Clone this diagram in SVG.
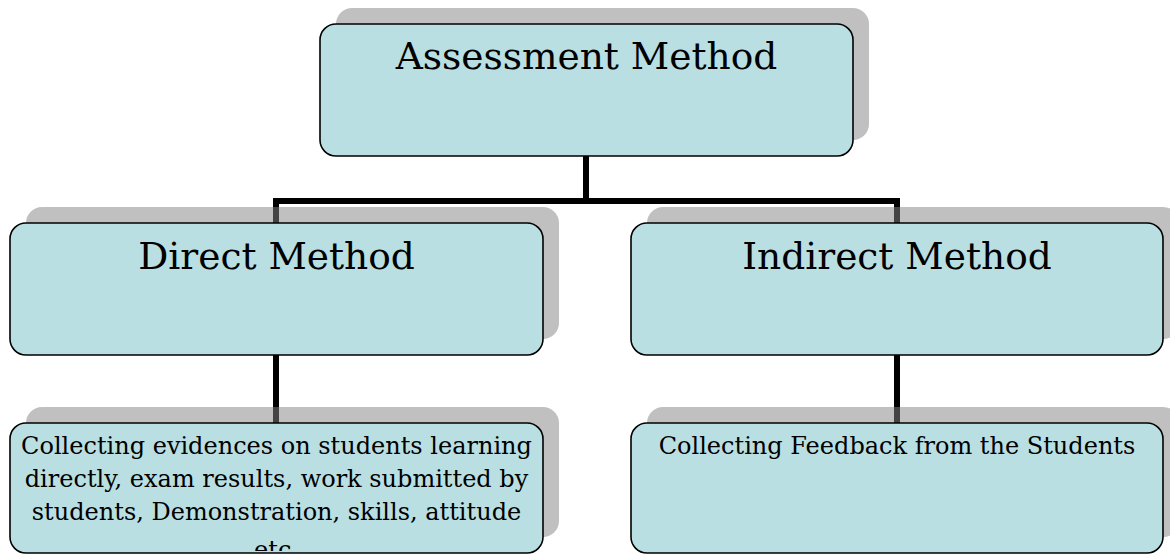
<svg xmlns="http://www.w3.org/2000/svg" width="1170" height="554" viewBox="0 0 1170 554">
<style>
.shadow{fill:#848484;fill-opacity:0.514;stroke:none}
.box{fill:#b9dfe3;stroke:#000;stroke-width:1.6}
.conn{fill:none;stroke:#000;stroke-width:6;stroke-linecap:butt;stroke-linejoin:miter}
.big{font-family:"DejaVu Serif","Liberation Serif",serif;font-size:37.5px;fill:#000;text-anchor:middle}
.small{font-family:"DejaVu Serif","Liberation Serif",serif;font-size:24px;fill:#000;text-anchor:middle}
</style>
<defs>
<clipPath id="clipD"><rect x="10" y="423" width="533" height="128" rx="16"/></clipPath>
</defs>
<rect width="1170" height="554" fill="#fff"/>
<g id="connectors">
<path class="conn" d="M586,156 V201 M276,223 V201 H897 V223 M276,355 V423 M897,355 V423"/>
</g>
<g id="assessment">
<rect class="shadow" x="336" y="8" width="533" height="132" rx="16"/>
<rect class="box" x="320" y="24" width="533" height="132" rx="16"/>
<text class="big" x="586.5" y="69">Assessment Method</text>
</g>
<g id="direct">
<rect class="shadow" x="26" y="207" width="533" height="132" rx="16"/>
<rect class="box" x="10" y="223" width="533" height="132" rx="16"/>
<text class="big" x="276.5" y="269">Direct Method</text>
</g>
<g id="indirect">
<rect class="shadow" x="647" y="207" width="532" height="132" rx="16"/>
<rect class="box" x="631" y="223" width="532" height="132" rx="16"/>
<text class="big" x="897" y="269">Indirect Method</text>
</g>
<g id="direct-detail">
<rect class="shadow" x="26" y="407" width="533" height="130" rx="16"/>
<rect class="box" x="10" y="423" width="533" height="130" rx="16"/>
<g clip-path="url(#clipD)">
<text class="small" x="276.5" y="454">Collecting evidences on students learning</text>
<text class="small" x="276.5" y="487">directly, exam results, work submitted by</text>
<text class="small" x="276.5" y="520">students, Demonstration, skills, attitude</text>
<text class="small" x="276.5" y="558">etc.</text>
</g>
</g>
<g id="indirect-detail">
<rect class="shadow" x="647" y="407" width="532" height="130" rx="16"/>
<rect class="box" x="631" y="423" width="532" height="130" rx="16"/>
<text class="small" x="897" y="454">Collecting Feedback from the Students</text>
</g>
</svg>
